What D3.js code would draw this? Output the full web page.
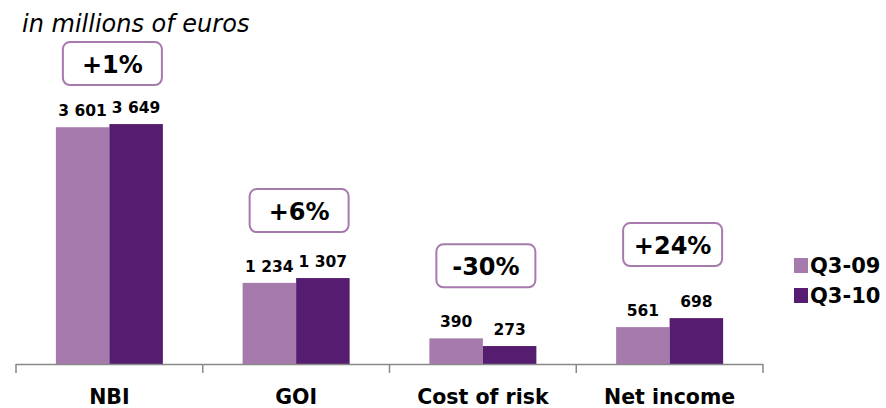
<!DOCTYPE html>
<html><head><meta charset="utf-8">
<script src="https://cdn.jsdelivr.net/npm/d3@7"></script>
<style>body{margin:0;background:#fff}svg{display:block}</style>
</head><body>
<script>
const categories = ["NBI", "GOI", "Cost of risk", "Net income"];
const seriesNames = ["Q3-09", "Q3-10"];
const q309 = [3601, 1234, 390, 561];
const q310 = [3649, 1307, 273, 698];
const valueLabels09 = ["3 601", "1 234", "390", "561"];
const valueLabels10 = ["3 649", "1 307", "273", "698"];
const changeLabels = ["+1%", "+6%", "-30%", "+24%"];

// layout
const W = 886, H = 408;
const colors = ["#a67aad", "#561c6f"];
const boxLift = [39, 46, 51, 52];
const font = "'DejaVu Sans', Verdana, sans-serif";

const svg = d3.select("body").append("svg").attr("width", W).attr("height", H);

const x0 = d3.scaleBand().domain(categories).range([16, 763]).paddingInner(0.427).paddingOuter(0.2135);
const x1 = d3.scaleBand().domain(seriesNames).range([0, x0.bandwidth()]);
const y = d3.scaleLinear().domain([0, 4000]).range([364, 101]);

const series = [q309, q310];
const labels = [valueLabels09, valueLabels10];

// bars
series.forEach((vals, si) => {
  svg.append("g").selectAll("rect").data(vals).join("rect")
    .attr("x", (d, i) => x0(categories[i]) + x1(seriesNames[si]))
    .attr("y", d => y(d))
    .attr("width", x1.bandwidth())
    .attr("height", d => y(0) - y(d))
    .attr("fill", colors[si]);
  svg.append("g").selectAll("text").data(vals).join("text")
    .attr("x", (d, i) => x0(categories[i]) + x1(seriesNames[si]) + x1.bandwidth() / 2)
    .attr("y", d => y(d) - 11)
    .attr("text-anchor", "middle")
    .attr("font-family", font).attr("font-weight", "bold").attr("font-size", 15.5)
    .text((d, i) => labels[si][i]);
});

// axis
const axisG = svg.append("g");
axisG.append("line").attr("x1", 16).attr("x2", 763).attr("y1", 364.5).attr("y2", 364.5)
  .attr("stroke", "#888").attr("stroke-width", 1.5);
const step = x0.step();
d3.range(categories.length + 1).forEach(i => {
  const xx = 16 + i * step;
  axisG.append("line").attr("x1", xx).attr("x2", xx).attr("y1", 364).attr("y2", 373)
    .attr("stroke", "#888").attr("stroke-width", 1.5);
});
axisG.selectAll("text.cat").data(categories).join("text").attr("class", "cat")
  .attr("x", d => x0(d) + x0.bandwidth() / 2)
  .attr("y", 404)
  .attr("text-anchor", "middle")
  .attr("font-family", font).attr("font-weight", "bold").attr("font-size", 20.5)
  .text(d => d);

// change boxes
const bw = 99, bh = 43;
categories.forEach((c, i) => {
  const top = y(Math.max(q309[i], q310[i])) - boxLift[i] - bh;
  const cx = x0(c) + x0.bandwidth() / 2 + 3;
  const g = svg.append("g");
  g.append("rect").attr("x", cx - bw / 2).attr("y", top).attr("width", bw).attr("height", bh)
    .attr("rx", 7).attr("fill", "#fff").attr("stroke", "#a67aad").attr("stroke-width", 2);
  g.append("text").attr("x", cx).attr("y", top + bh / 2 + 9)
    .attr("text-anchor", "middle")
    .attr("font-family", font).attr("font-weight", "bold").attr("font-size", 24)
    .text(changeLabels[i]);
});

// legend
seriesNames.forEach((s, i) => {
  const yy = 258 + i * 30;
  svg.append("rect").attr("x", 794).attr("y", yy).attr("width", 14).attr("height", 15).attr("fill", colors[i]);
  svg.append("text").attr("x", 810).attr("y", yy + 15)
    .attr("font-family", font).attr("font-weight", "bold").attr("font-size", 21)
    .text(s);
});

// title
svg.append("text").attr("x", 22).attr("y", 32)
  .attr("font-family", font).attr("font-style", "italic").attr("font-size", 24)
  .text("in millions of euros");
</script>
</body></html>
